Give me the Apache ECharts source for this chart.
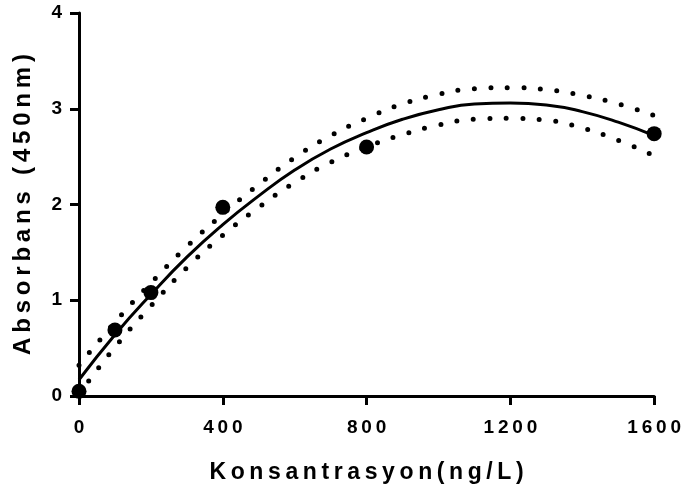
<!DOCTYPE html>
<html>
<head>
<meta charset="utf-8">
<script src="https://cdn.jsdelivr.net/npm/echarts@6/dist/echarts.min.js"></script>
<style>
html,body{margin:0;padding:0;background:#fff;}
#c{width:684px;height:493px;}
</style>
</head>
<body>
<div id="c"></div>
<script>
// Measured standards (concentration ng/L, absorbance 450nm)
const pointX = [0, 100, 200, 400, 800, 1600];
const pointY = [0.05, 0.69, 1.08, 1.97, 2.60, 2.74];

// Fitted curve and confidence band
const curveX = [0, 100, 200, 300, 400, 500, 600, 700, 800, 900, 1000, 1100, 1200, 1300, 1400, 1500, 1600];
const fitY   = [0.17, 0.64, 1.06, 1.45, 1.79, 2.09, 2.36, 2.58, 2.75, 2.89, 2.99, 3.05, 3.06, 3.04, 2.97, 2.86, 2.72];
const upperY = [0.32, 0.77, 1.18, 1.56, 1.90, 2.21, 2.49, 2.72, 2.90, 3.05, 3.15, 3.21, 3.22, 3.20, 3.14, 3.05, 2.93];
const lowerY = [0.02, 0.51, 0.94, 1.34, 1.68, 1.97, 2.23, 2.44, 2.60, 2.73, 2.83, 2.89, 2.90, 2.88, 2.80, 2.67, 2.51];

const xTicks = [0, 400, 800, 1200, 1600];
const yTicks = [0, 1, 2, 3, 4];
const xTitle = 'Konsantrasyon(ng/L)';
const yTitle = 'Absorbans (450nm)';

const sp = s => String(s).split('').join('\u2009');
const pairs = (xs, ys) => xs.map((x, i) => [x, ys[i]]);

const chart = echarts.init(document.getElementById('c'), null, {renderer: 'canvas'});
const font = '"Liberation Sans", Arial, sans-serif';
chart.setOption({
  backgroundColor: '#ffffff',
  animation: false,
  grid: {left: 79, right: 29, top: 13, bottom: 97, containLabel: false},
  xAxis: {
    type: 'value', min: xTicks[0], max: xTicks[xTicks.length - 1], interval: 400,
    axisLine: {show: true, onZero: false, lineStyle: {color: '#000', width: 3}},
    axisTick: {show: true, length: 9, lineStyle: {color: '#000', width: 3}},
    splitLine: {show: false},
    axisLabel: {color: '#000', fontFamily: font, fontWeight: 'bold', fontSize: 19, margin: 22,
      formatter: v => sp(v)},
    name: sp(xTitle), nameLocation: 'middle', nameGap: 65,
    nameTextStyle: {color: '#000', fontFamily: font, fontWeight: 'bold', fontSize: 23}
  },
  yAxis: {
    type: 'value', min: yTicks[0], max: yTicks[yTicks.length - 1], interval: 1,
    axisLine: {show: true, onZero: false, lineStyle: {color: '#000', width: 3}},
    axisTick: {show: true, length: 9, lineStyle: {color: '#000', width: 3}},
    splitLine: {show: false},
    axisLabel: {color: '#000', fontFamily: font, fontWeight: 'bold', fontSize: 19, margin: 17},
    name: sp(yTitle), nameLocation: 'middle', nameGap: 44, nameRotate: 90,
    nameTextStyle: {color: '#000', fontFamily: font, fontWeight: 'bold', fontSize: 24}
  },
  series: [
    {type: 'line', data: pairs(curveX, upperY), smooth: true, symbol: 'none', silent: true,
     lineStyle: {color: '#000', width: 5, type: [0, 16.5], cap: 'round'}},
    {type: 'line', data: pairs(curveX, lowerY), smooth: true, symbol: 'none', silent: true,
     lineStyle: {color: '#000', width: 5, type: [0, 16.5], cap: 'round'}},
    {type: 'line', data: pairs(curveX, fitY), smooth: true, symbol: 'none', silent: true,
     lineStyle: {color: '#000', width: 3}},
    {type: 'scatter', data: pairs(pointX, pointY), symbol: 'circle', symbolSize: 15,
     itemStyle: {color: '#000', opacity: 1}, z: 5}
  ]
});
</script>
</body>
</html>
